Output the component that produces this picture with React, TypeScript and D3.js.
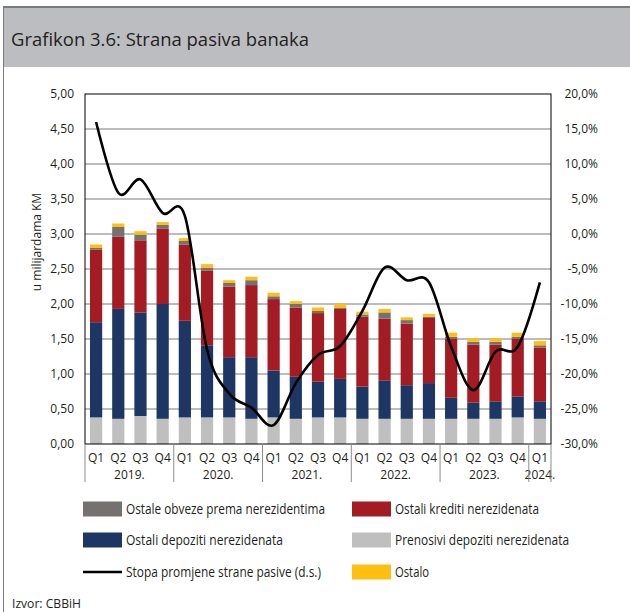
import React from 'react';
import * as d3 from 'd3';

const quarters = ['Q1','Q2','Q3','Q4','Q1','Q2','Q3','Q4','Q1','Q2','Q3','Q4','Q1','Q2','Q3','Q4','Q1','Q2','Q3','Q4','Q1'];
const yearLabels = ['2019.','2020.','2021.','2022.','2023.','2024.'];
const yearStart = [0, 4, 8, 12, 16, 20];
const yearLen = [4, 4, 4, 4, 4, 1];

const prenosivi = [0.38,0.36,0.40,0.36,0.38,0.38,0.38,0.36,0.38,0.36,0.38,0.38,0.36,0.36,0.36,0.36,0.36,0.36,0.36,0.38,0.36];
const depoziti = [1.36,1.57,1.48,1.64,1.38,1.03,0.86,0.88,0.67,0.60,0.51,0.55,0.46,0.55,0.48,0.51,0.30,0.23,0.25,0.30,0.25];
const krediti = [1.04,1.03,1.03,1.08,1.09,1.07,1.01,1.03,1.02,0.99,0.98,1.00,1.00,0.88,0.88,0.93,0.84,0.83,0.81,0.82,0.77];
const obveze = [0.02,0.14,0.08,0.05,0.05,0.04,0.05,0.07,0.04,0.05,0.03,0.02,0.03,0.09,0.05,0.02,0.03,0.04,0.04,0.03,0.03];
const ostalo = [0.05,0.05,0.05,0.04,0.04,0.05,0.04,0.05,0.05,0.04,0.05,0.05,0.04,0.05,0.04,0.04,0.06,0.05,0.05,0.06,0.06];
const stopa = [16.0,5.9,7.8,3.0,2.6,-16.5,-22.8,-24.8,-27.3,-21.3,-17.3,-16.0,-11.0,-4.8,-6.6,-6.9,-16.1,-22.3,-16.8,-16.1,-6.9];

const leftTicks = [0,0.5,1,1.5,2,2.5,3,3.5,4,4.5,5];
const rightTicks = [-30,-25,-20,-15,-10,-5,0,5,10,15,20];

const seriesKeys = ['prenosivi','depoziti','krediti','obveze','ostalo'];
const seriesNames = ['Prenosivi depoziti nerezidenata','Ostali depoziti nerezidenata','Ostali krediti nerezidenata','Ostale obveze prema nerezidentima','Ostalo'];
const seriesColors = ['#bfbfbf','#1d3663','#a31c24','#767171','#fdc012'];
const lineName = 'Stopa promjene strane pasive (d.s.)';

const FONT = "'Open Sans', 'Noto Sans', sans-serif";

export default function App() {
  const W = 630, H = 612;
  const L = 85, R = 551, T = 94, B = 444;
  const idx = d3.range(quarters.length);
  const x = d3.scaleBand<number>().domain(idx).range([L, R]).paddingInner(0.45).paddingOuter(0.225);
  const step = x.step();
  const y = d3.scaleLinear().domain([0, 5]).range([B, T]);
  const y2 = d3.scaleLinear().domain([-30, 20]).range([B, T]);
  const rows = idx.map(i => ({ prenosivi: prenosivi[i], depoziti: depoziti[i], krediti: krediti[i], obveze: obveze[i], ostalo: ostalo[i] }));
  const stacked = d3.stack<any>().keys(seriesKeys)(rows);
  const cx = (i: number) => (x(i) as number) + x.bandwidth() / 2;
  const line = d3.line<number>().x((d, i) => cx(i)).y(d => y2(d)).curve(d3.curveCatmullRom.alpha(0));
  const fmtL = (v: number) => v.toFixed(2).replace('.', ',');
  const fmtR = (v: number) => v.toFixed(1).replace('.', ',') + '%';
  const bandStart = (i: number) => L + (i) * step;

  const legend = [
    { col: 0, row: 0, type: 'rect', color: seriesColors[3], label: seriesNames[3], w: 199 },
    { col: 1, row: 0, type: 'rect', color: seriesColors[2], label: seriesNames[2], w: 144 },
    { col: 0, row: 1, type: 'rect', color: seriesColors[1], label: seriesNames[1], w: 157 },
    { col: 1, row: 1, type: 'rect', color: seriesColors[0], label: seriesNames[0], w: 174 },
    { col: 0, row: 2, type: 'line', color: '#000', label: lineName, w: 195 },
    { col: 1, row: 2, type: 'rect', color: seriesColors[4], label: seriesNames[4], w: 34 },
  ];
  const colX = [83, 352];
  const rowY = [509, 540, 572];

  return (
    <svg width={W} height={H} style={{ position: 'absolute', left: 0, top: 0, background: '#fff' }} fontFamily={FONT}>
      <rect x={0} y={0} width={W} height={H} fill="#fff" />
      <rect x={3} y={7} width={W - 3} height={60} fill="#bcbdc0" />
      <line x1={3} x2={W} y1={7} y2={7} stroke="#7b7b7b" strokeWidth={2} />
      <line x1={3.5} x2={3.5} y1={7} y2={H} stroke="#7b7b7b" strokeWidth={1} />
      <text x={11} y={46} fontSize={19} fill="#231f20" textLength={298} lengthAdjust="spacingAndGlyphs">Grafikon 3.6: Strana pasiva banaka</text>

      {leftTicks.filter(t => t > 0 && t < 5).map(t => (
        <line key={'g' + t} x1={L} x2={R} y1={y(t)} y2={y(t)} stroke="#a6a6a6" strokeWidth={1.3} />
      ))}

      {stacked.map((s, si) => (
        <g key={s.key} fill={seriesColors[si]}>
          {s.map((d, i) => (
            <rect key={i} x={x(i)} width={x.bandwidth()} y={y(d[1])} height={y(d[0]) - y(d[1])} />
          ))}
        </g>
      ))}

      <rect x={L} y={T} width={R - L} height={B - T} fill="none" stroke="#000" strokeWidth={1} />

      <path d={line(stopa) || ''} fill="none" stroke="#000" strokeWidth={2.6} />

      {leftTicks.map(t => (
        <text key={'l' + t} x={74} y={y(t)} dy="0.35em" textAnchor="end" fontSize={12} fill="#231f20">{fmtL(t)}</text>
      ))}
      {rightTicks.map(t => (
        <text key={'r' + t} x={598} y={y2(t)} dy="0.35em" textAnchor="end" fontSize={12} fill="#231f20">{fmtR(t)}</text>
      ))}
      <text transform={`translate(41,242) rotate(-90)`} textAnchor="middle" fontSize={12} fill="#231f20">u milijardama KM</text>

      {quarters.map((q, i) => (
        <text key={'q' + i} x={cx(i)} y={458} dy="0.35em" textAnchor="middle" fontSize={12} fill="#231f20">{q}</text>
      ))}
      {yearLabels.map((yl, k) => {
        const a = bandStart(yearStart[k]);
        const b = bandStart(yearStart[k] + yearLen[k]);
        return <text key={'y' + k} x={(a + b) / 2} y={475} dy="0.35em" textAnchor="middle" fontSize={12} fill="#231f20">{yl}</text>;
      })}
      {yearStart.concat([quarters.length]).map((s, k) => (
        <line key={'s' + k} x1={bandStart(s)} x2={bandStart(s)} y1={B} y2={482} stroke="#8c8c8c" strokeWidth={1} />
      ))}

      {legend.map((it, k) => (
        <g key={'lg' + k}>
          {it.type === 'rect'
            ? <rect x={colX[it.col]} y={rowY[it.row] - 7.5} width={39} height={15} fill={it.color} />
            : <line x1={colX[it.col]} x2={colX[it.col] + 39} y1={rowY[it.row]} y2={rowY[it.row]} stroke="#000" strokeWidth={2.5} />}
          <text x={colX[it.col] + 43} y={rowY[it.row]} dy="0.35em" fontSize={14} fill="#231f20" textLength={it.w} lengthAdjust="spacingAndGlyphs">{it.label}</text>
        </g>
      ))}
      <text x={12} y={603} dy="0.35em" fontSize={13} fill="#231f20" textLength={69} lengthAdjust="spacingAndGlyphs">Izvor: CBBiH</text>
    </svg>
  );
}
